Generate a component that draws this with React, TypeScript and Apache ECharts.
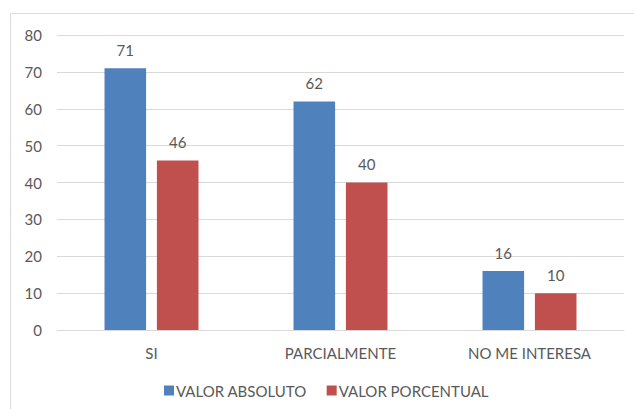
import React, { useEffect, useRef } from "react";
import * as echarts from "echarts";

const categories = ["SI", "PARCIALMENTE", "NO ME INTERESA"];
const valorAbsoluto = [71, 62, 16];
const valorPorcentual = [46, 40, 10];
const seriesNames = ["VALOR ABSOLUTO", "VALOR PORCENTUAL"];

const FONT = "Lato, 'Open Sans', sans-serif";
const TEXT = "#595959";
const FS = 15;

export default function App() {
  const ref = useRef<HTMLDivElement>(null);
  useEffect(() => {
    const chart = echarts.init(ref.current!, null, { renderer: "svg" });
    chart.setOption({
      animation: false,
      backgroundColor: "#fff",
      textStyle: { fontFamily: FONT },
      graphic: [
        {
          type: "rect",
          shape: { x: 10.5, y: 13.5, width: 640, height: 420 },
          style: { fill: "none", stroke: "#d9d9d9", lineWidth: 1 },
          silent: true,
        },
      ],
      grid: { left: 57, right: 10, top: 35, bottom: 79 },
      legend: {
        bottom: 6,
        left: 159,
        itemWidth: 10,
        itemHeight: 10,
        itemGap: 20,
        icon: "rect",
        textStyle: { color: TEXT, fontSize: FS, fontFamily: FONT, padding: [0, 0, 0, -3] },
        data: seriesNames,
      },
      xAxis: {
        type: "category",
        data: categories,
        axisLine: { lineStyle: { color: "#d9d9d9" } },
        axisTick: { show: false },
        axisLabel: { color: TEXT, fontSize: FS, margin: 15, fontFamily: FONT },
      },
      yAxis: {
        type: "value",
        min: 0,
        max: 80,
        interval: 10,
        axisLine: { show: false },
        axisTick: { show: false },
        axisLabel: { color: TEXT, fontSize: FS, margin: 15, fontFamily: FONT },
        splitLine: { lineStyle: { color: "#d9d9d9" } },
      },
      series: [
        {
          name: seriesNames[0],
          type: "bar",
          data: valorAbsoluto,
          barWidth: "22%",
          barGap: "26%",
          itemStyle: { color: "#4F81BD" },
          label: { show: true, position: "top", distance: 11, color: TEXT, fontSize: FS, fontFamily: FONT },
        },
        {
          name: seriesNames[1],
          type: "bar",
          data: valorPorcentual,
          barWidth: "22%",
          itemStyle: { color: "#C0504D" },
          label: { show: true, position: "top", distance: 11, color: TEXT, fontSize: FS, fontFamily: FONT },
        },
      ],
    });
    return () => chart.dispose();
  }, []);
  return (
    <div
      ref={ref}
      style={{ position: "fixed", left: 0, top: 0, width: 634, height: 409 }}
    />
  );
}
